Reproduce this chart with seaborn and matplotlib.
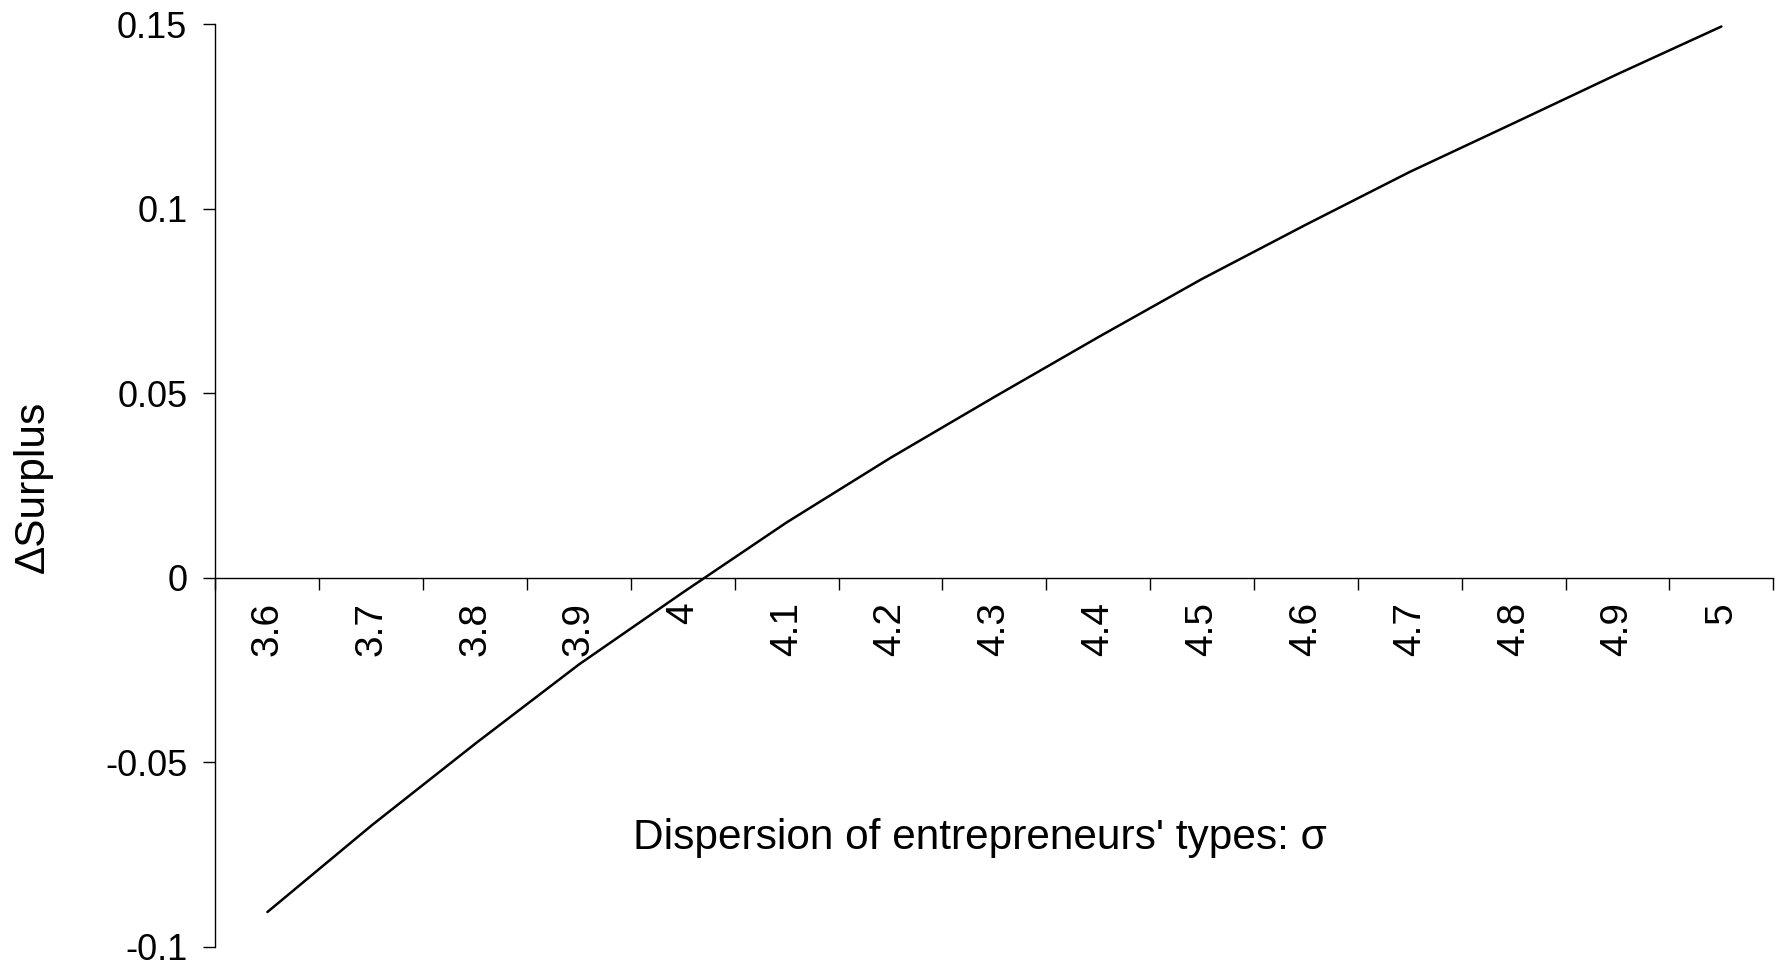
import matplotlib
matplotlib.use("Agg")
import matplotlib.pyplot as plt
import seaborn as sns
import pandas as pd
import numpy as np

# ---- data ----
sigma_labels = ["3.6", "3.7", "3.8", "3.9", "4", "4.1", "4.2", "4.3",
                "4.4", "4.5", "4.6", "4.7", "4.8", "4.9", "5"]
delta_surplus = [-0.0906, -0.0672, -0.0450, -0.0235, -0.0040, 0.0150,
                 0.0325, 0.0490, 0.0652, 0.0810, 0.0957, 0.1100,
                 0.1232, 0.1365, 0.1494]
y_ticks = [-0.1, -0.05, 0.0, 0.05, 0.1, 0.15]
y_tick_labels = ["-0.1", "-0.05", "0", "0.05", "0.1", "0.15"]
x_label = "Dispersion of entrepreneurs' types: \u03c3"
y_label = "\u0394Surplus"

sns.set_theme(style="white")
plt.rcParams["font.family"] = ["Liberation Sans", "DejaVu Sans"]
plt.rcParams["text.color"] = "black"
plt.rcParams["axes.labelcolor"] = "black"
plt.rcParams["xtick.color"] = "black"
plt.rcParams["ytick.color"] = "black"

df = pd.DataFrame({"sigma": pd.Categorical(sigma_labels, categories=sigma_labels, ordered=True),
                   "dsurplus": delta_surplus})

fig = plt.figure(figsize=(17.83, 9.66), dpi=100)
ax = fig.add_axes([0.12086, 0.01998, 0.87370, 0.95486])

sns.lineplot(data=df, x="sigma", y="dsurplus", ax=ax, color="black",
             linewidth=1.8, sort=False)

n = len(sigma_labels)
ax.set_xlim(-0.5, n - 0.5)
ax.set_ylim(y_ticks[0], y_ticks[-1])

# spines
for s in ["top", "right"]:
    ax.spines[s].set_visible(False)
ax.spines["bottom"].set_position(("data", 0))
ax.spines["bottom"].set_color("black")
ax.spines["left"].set_color("black")
ax.spines["bottom"].set_linewidth(1.0)
ax.spines["left"].set_linewidth(1.0)

# y ticks
ax.set_yticks(y_ticks)
ax.set_yticklabels(y_tick_labels)
ax.tick_params(axis="y", which="major", direction="out", length=8.3, width=1.0,
               color="black", labelcolor="black", labelsize=26, pad=12, left=True)

# x ticks: marks between categories, labels at centres
ax.set_xticks(np.arange(n + 1) - 0.5)
ax.set_xticklabels([""] * (n + 1))
ax.set_xticks(np.arange(n), minor=True)
ax.set_xticklabels(sigma_labels, minor=True, rotation=90, va="top", ha="center")
ax.tick_params(axis="x", which="major", direction="out", length=8.3, width=1.0,
               color="black", bottom=True)
ax.tick_params(axis="x", which="minor", length=0, labelsize=28, pad=17.5,
               labelcolor="black", bottom=True)

ax.grid(False)

ax.set_xlabel(x_label, fontsize=30.5, color="black")
ax.xaxis.set_label_coords(0.4908, 0.1178)
ax.xaxis.label.set_verticalalignment("center")

ax.set_ylabel(y_label, fontsize=30.5, color="black")
ax.yaxis.set_label_coords(-0.117, 0.499)
ax.yaxis.label.set_verticalalignment("center")

for line in ax.lines:
    line.set_clip_on(False)

fig.savefig("out.png", dpi=100, facecolor="white")
